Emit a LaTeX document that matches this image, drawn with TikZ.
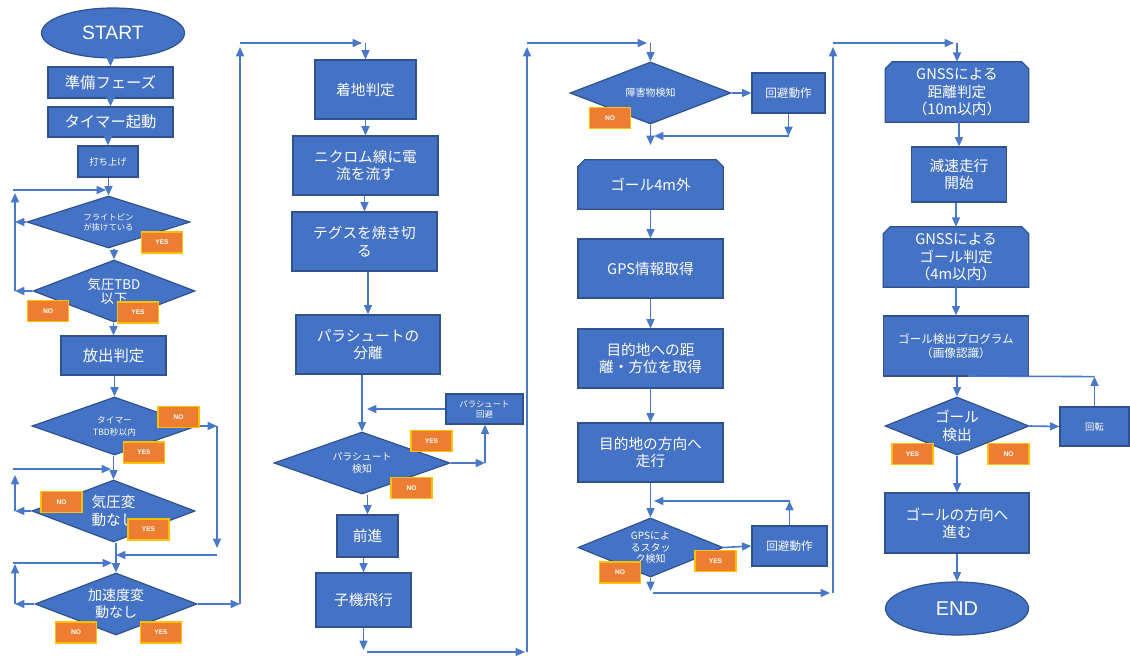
\documentclass[tikz,border=0pt]{standalone}
\usepackage{fontspec}
\setmainfont{Noto Sans CJK JP}
\newfontfamily\lat{Liberation Sans}
\usetikzlibrary{shapes.geometric,arrows.meta,backgrounds}
\definecolor{boxblue}{HTML}{4472C4}
\definecolor{boxedge}{HTML}{2F528F}
\definecolor{linec}{HTML}{4A78C8}
\definecolor{tagorange}{HTML}{ED7D31}
\definecolor{tagedge}{HTML}{FFC000}
\newcommand\myfs[2]{\fontsize{#1}{#2}\selectfont}
\newcommand\vconn[2]{\draw[arr] (#2.north |- #1.south) -- (#2.north);}
\newcommand\chamf[1]{\path[fill=boxblue,draw=boxedge,line width=0.9pt]
  ([yshift=-5.25pt]#1.north west) -- ([xshift=5.25pt]#1.north west) --
  ([xshift=-5.25pt]#1.north east) -- ([yshift=-5.25pt]#1.north east) --
  (#1.south east) -- (#1.south west) -- cycle;}
\tikzset{
  W/.style={minimum width=#1*0.75pt},
  H/.style={minimum height=#1*0.75pt},
  base/.style={fill=boxblue, draw=boxedge, line width=0.9pt, text=white, align=center, inner sep=0pt},
  proc/.style={base, rectangle, font=\myfs{11}{13}},
  cham/.style={rectangle, text=white, align=center, inner sep=0pt, font=\myfs{11}{13}},
  dec/.style={base, diamond, aspect=2.6, font=\myfs{11}{13}},
  term/.style={base, ellipse, font=\lat\myfs{14.5}{16}},
  tag/.style={rectangle, fill=tagorange, draw=tagedge, line width=1pt, text=white, inner sep=0pt, W=41, H=21, font=\lat\bfseries\myfs{5}{6}},
  arr/.style={draw=linec, line width=1.2pt, -{Triangle[length=7pt,width=6pt]}},
  ln/.style={draw=linec, line width=1.2pt},
}
\begin{document}
\begin{tikzpicture}[x=0.75pt,y=-0.75pt]
\useasboundingbox (0,0) rectangle (1130,657);
% ---------------- column 1
\node[term, W=143, H=50] (start) at (113,33) {START};
\node[proc, W=125, H=31, font=\myfs{11.5}{13}] (prep) at (110.5,82.5) {準備フェーズ};
\node[proc, W=125, H=30, font=\myfs{11.5}{13}] (timer) at (110.5,122) {タイマー起動};
\node[proc, W=60, H=31, font=\myfs{7}{8}] (launch) at (108,161.5) {打ち上げ};
\node[dec, W=163, H=52, font=\myfs{6.2}{7.5}] (d1) at (108.5,222) {フライトピン\\が抜けている};
\node[dec, W=162, H=62, font=\myfs{10}{10.5}] (d2) at (114,291) {気圧TBD\\以下};
\node[proc, W=105, H=39, font=\myfs{11.5}{13}] (release) at (113.5,355.5) {放出判定};
\node[dec, W=165, H=58, font=\myfs{6.5}{9}] (d3) at (114.5,426) {タイマー\\TBD秒以内};
\node[dec, W=163, H=62, font=\myfs{11}{13.5}] (d4) at (113.5,511) {気圧変\\動なし};
\node[dec, W=162, H=62, font=\myfs{10.5}{13}] (d5) at (116,604) {加速度変\\動なし};
% ---------------- column 2
\node[proc, W=101, H=59] (land) at (365.5,89.5) {着地判定};
\node[proc, W=145, H=59] (nich) at (365.5,165.5) {ニクロム線に電\\流を流す};
\node[proc, W=145, H=59] (tegu) at (364.5,241.5) {テグスを焼き切\\る};
\node[proc, W=144, H=59] (para) at (368,344.5) {パラシュートの\\分離};
\node[proc, W=77, H=30, font=\myfs{6.3}{7.5}] (pavoid) at (484.5,409) {パラシュート\\回避};
\node[dec, W=176, H=62, font=\myfs{7.4}{9}] (d6) at (362,463) {パラシュート\\検知};
\node[proc, W=61, H=42] (fwd) at (367.5,536) {前進};
\node[proc, W=95, H=54] (child) at (363.5,600) {子機飛行};
% ---------------- column 3
\node[dec, W=161, H=62, font=\myfs{7.5}{9}] (d7) at (650.5,93) {障害物検知};
\node[proc, W=73, H=40, font=\myfs{8.7}{10}] (avoid1) at (788.5,93) {回避動作};
\node[cham, W=145, H=49] (g4m) at (650.5,184.5) {ゴール4m外};
\node[proc, W=145, H=59] (gps) at (650.5,268.5) {GPS情報取得};
\node[proc, W=145, H=59] (dist) at (650.5,358.5) {目的地への距\\離・方位を取得};
\node[proc, W=145, H=59] (dir) at (650.5,452.5) {目的地の方向へ\\走行};
\node[dec, W=145, H=59, font=\myfs{7.5}{8.6}] (d8) at (650.5,547.5) {GPSによ\\るスタッ\\ク検知};
\node[proc, W=75, H=40, font=\myfs{8.7}{10}] (avoid2) at (789.5,546) {回避動作};
% ---------------- column 4
\node[cham, W=143, H=60] (gd) at (957,92) {GNSSによる\\距離判定\\（10m以内）};
\node[proc, W=95, H=55] (slow) at (959,174.5) {減速走行\\開始};
\node[cham, W=145, H=60] (gg) at (956,257) {GNSSによる\\ゴール判定\\（4m以内）};
\node[proc, W=145, H=60, font=\myfs{8.7}{10.5}] (prog) at (956,346) {ゴール検出プログラム\\（画像認識）};
\node[dec, W=144, H=58] (d9) at (957,426) {ゴール\\検出};
\node[proc, W=69, H=39, font=\myfs{7}{8}] (rot) at (1094.5,426.5) {回転};
\node[proc, W=144, H=60] (goalp) at (957,523) {ゴールの方向へ\\進む};
\node[term, W=143, H=53, font=\lat\myfs{15}{16}] (endn) at (957,608.5) {END};
% ---------------- free ends
\coordinate (a1) at (15,291);
\coordinate (a2) at (15,193);
\coordinate (a3) at (13,190);
\coordinate (a4) at (106,190);
\coordinate (b1) at (217,426);
\coordinate (b2) at (217,548);
\coordinate (b3) at (217,555);
\coordinate (b4) at (116,555);
\coordinate (c1) at (15,511);
\coordinate (c2) at (15,475);
\coordinate (c3) at (13,469);
\coordinate (c4) at (111,469);
\coordinate (e1) at (15,604);
\coordinate (e2) at (15,564);
\coordinate (e3) at (13,563);
\coordinate (e4) at (112,563);
\coordinate (f1) at (240,604);
\coordinate (f2) at (240,47);
\coordinate (f3) at (240,43);
\coordinate (f4) at (362,43);
\coordinate (f5) at (365.5,43);
\coordinate (g1) at (363.5,650);
\coordinate (g2) at (367,652);
\coordinate (g3) at (525,652);
\coordinate (g4) at (527,652);
\coordinate (g5) at (527,47);
\coordinate (g6) at (527,43);
\coordinate (g7) at (647,43);
\coordinate (g8) at (650.5,43);
\coordinate (h1) at (485,463);
\coordinate (h2) at (367,409);
\coordinate (k1) at (650.5,145);
\coordinate (k2) at (788.5,136);
\coordinate (k3) at (654,136);
\coordinate (k4) at (789.5,501);
\coordinate (k5) at (654,501);
\coordinate (k6) at (650.5,591);
\coordinate (k7) at (653,593);
\coordinate (k8) at (830,593);
\coordinate (k9) at (833,593);
\coordinate (k10) at (833,47);
\coordinate (k11) at (833,43);
\coordinate (k12) at (954,43);
\coordinate (k13) at (957,43);
\coordinate (m1) at (968,376);
% ---------------- connectors column 1
\vconn{start}{prep}
\vconn{prep}{timer}
\vconn{timer}{launch}
\vconn{launch}{d1}
\vconn{d1}{d2}
\vconn{d2}{release}
\vconn{release}{d3}
\vconn{d3}{d4}
\vconn{d4}{d5}
\draw[arr] (d1.west) -- (d1.west -| a1);
\draw[arr] (d2.west) -- (a1);
\draw[arr] (a1) -- (a2);
\draw[arr] (a3) -- (a4);
\draw[arr] (d3.east) -- (b1);
\draw[arr] (b1) -- (b2);
\draw[arr] (b3) -- (b4);
\draw[arr] (d4.west) -- (c1);
\draw[arr] (c1) -- (c2);
\draw[arr] (c3) -- (c4);
\draw[arr] (d5.west) -- (e1);
\draw[arr] (e1) -- (e2);
\draw[arr] (e3) -- (e4);
\draw[arr] (d5.east) -- (f1);
\draw[arr] (f1) -- (f2);
\draw[arr] (f3) -- (f4);
\draw[arr] (f5) -- (land.north);
% ---------------- connectors column 2
\vconn{land}{nich}
\vconn{nich}{tegu}
\vconn{tegu}{para}
\vconn{para}{d6}
\vconn{d6}{fwd}
\vconn{fwd}{child}
\draw[arr] (d6.east) -- (h1);
\draw[arr] (h1) -- (pavoid.south -| h1);
\draw[arr] (pavoid.west) -- (h2);
\draw[arr] (child.south) -- (g1);
\draw[arr] (g2) -- (g3);
\draw[arr] (g4) -- (g5);
\draw[arr] (g6) -- (g7);
\draw[arr] (g8) -- (d7.north);
% ---------------- connectors column 3
\draw[arr] (d7.east) -- (avoid1.west);
\draw[arr] (d7.south) -- (k1);
\draw[arr] (avoid1.south) -- (k2);
\draw[arr] (k2) -- (k3);
\vconn{g4m}{gps}
\vconn{gps}{dist}
\vconn{dist}{dir}
\vconn{dir}{d8}
\draw[arr] (d8.east) -- (avoid2.west);
\draw[arr] (avoid2.north) -- (k4);
\draw[arr] (k4) -- (k5);
\draw[arr] (d8.south) -- (k6);
\draw[arr] (k7) -- (k8);
\draw[arr] (k9) -- (k10);
\draw[arr] (k11) -- (k12);
\draw[arr] (k13) -- (gd.north);
% ---------------- connectors column 4
\vconn{gd}{slow}
\vconn{slow}{gg}
\vconn{gg}{prog}
\vconn{prog}{d9}
\vconn{d9}{goalp}
\vconn{goalp}{endn}
\draw[arr] (d9.east) -- (rot.west);
\draw[arr] (rot.north) -- (rot.north |- prog.south);
\draw[ln] (rot.north |- prog.south) -- (m1);
% ---------------- tags
\node[tag] (t1) at (162,242.5) {YES};
\node[tag] (t2) at (48,311) {NO};
\node[tag] (t3) at (138,312.5) {YES};
\node[tag] (t4) at (178.5,417) {NO};
\node[tag] (t5) at (144,452.5) {YES};
\node[tag] (t6) at (61.5,502) {NO};
\node[tag] (t7) at (148.5,529.5) {YES};
\node[tag] (t8) at (76,632.5) {NO};
\node[tag] (t9) at (161,632.5) {YES};
\node[tag] (t10) at (431.5,441) {YES};
\node[tag] (t11) at (411.5,488) {NO};
\node[tag] (t12) at (610,118) {NO};
\node[tag] (t13) at (715.5,561) {YES};
\node[tag] (t14) at (620,572.5) {NO};
\node[tag] (t15) at (912.5,454) {YES};
\node[tag] (t16) at (1008.5,454) {NO};
% ---------------- background
\begin{scope}[on background layer]
\fill[white] (0,0) rectangle (1130,657);
\chamf{g4m}
\chamf{gd}
\chamf{gg}
\end{scope}
\end{tikzpicture}
\end{document}
